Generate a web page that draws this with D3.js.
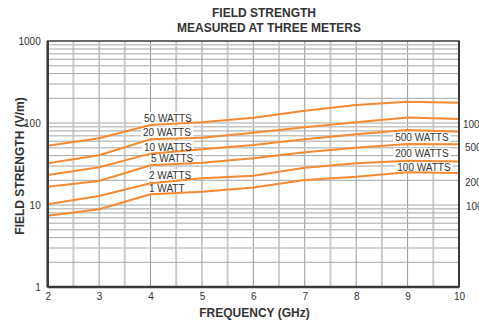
<!DOCTYPE html>
<html>
<head>
<meta charset="utf-8">
<script src="https://cdn.jsdelivr.net/npm/d3@7"></script>
<style>
  html, body { margin: 0; padding: 0; background: #fff; }
  svg { display: block; font-family: "Liberation Sans", Arial, Helvetica, sans-serif; }
</style>
</head>
<body>
<svg id="chart" width="479" height="321"></svg>
<script>
// ---- data ----
const frequencies = [2, 3, 4, 5, 6, 7, 8, 9, 10];              // GHz
const series50W = [52.8, 65, 94.5, 102, 116, 141, 166, 182, 177];
const series20W = [32.3, 40.4, 63.3, 66.3, 76.2, 88.6, 102, 117, 112];
const series10W = [23.2, 28.8, 42.3, 47.8, 54, 63.3, 72.8, 82.2, 78.3];
const series5W  = [16.7, 19.6, 30.5, 32.8, 37.1, 43.9, 50, 55.5, 55];
const series2W  = [10.2, 12.9, 18.4, 21.2, 22.8, 28.5, 32.3, 34.7, 34];
const series1W  = [7.4, 8.9, 13.5, 14.5, 16.3, 20.2, 22.1, 25.1, 24.5];
const allSeries = [series50W, series20W, series10W, series5W, series2W, series1W];

const xTickLabels = ["2", "3", "4", "5", "6", "7", "8", "9", "10"];
const yTickValues = [1, 10, 100, 1000];
const yTickLabels = ["1", "10", "100", "1000"];
const rightTickLabels = ["1000", "500", "200", "100"];
const rightTickAt = [95, 50, 19, 9.7];   // V/m level where each right label sits

const lineLabelTexts = ["50 WATTS", "20 WATTS", "10 WATTS", "5 WATTS", "2 WATTS", "1 WATT",
                        "500 WATTS", "200 WATTS", "100 WATTS"];

// ---- layout (not data) ----
const labelAnchors = [ // [freq at left edge, V/m at vertical centre]
  [3.873, 115], [3.854, 76.6], [3.873, 50.9], [4.01, 36.4], [3.97, 22.9], [3.97, 16.1],
  [8.76, 66.5], [8.76, 41.9], [8.80, 29.0]
];
const rightTickX = [463, 465, 465, 466];

const svg = d3.select("#chart");
const pLeft = 47.7, pRight = 459, pTop = 41, pBottom = 287;
const x = d3.scaleLinear().domain([2, 10]).range([pLeft, pRight]);
const y = d3.scaleLog().domain([1, 1000]).range([pBottom, pTop]);
const orange = "#f58a32";
const textCol = "#333";

// grid: vertical
const g = svg.append("g");
const halfTicks = d3.range(2.5, 10, 1);
g.selectAll("line.vh").data(halfTicks).join("line")
  .attr("x1", d => x(d)).attr("x2", d => x(d))
  .attr("y1", pTop).attr("y2", pBottom)
  .attr("stroke", "#cbcbcb").attr("stroke-width", 2);
g.selectAll("line.vi").data(d3.range(3, 10)).join("line")
  .attr("x1", d => x(d)).attr("x2", d => x(d))
  .attr("y1", pTop).attr("y2", pBottom)
  .attr("stroke", "#999").attr("stroke-width", 1);

// grid: horizontal (log minors)
const minor = [];
[1, 10, 100].forEach(dec => { for (let k = 2; k <= 9; k++) minor.push(dec * k); });
[10, 100].forEach(v => minor.push(v));
g.selectAll("line.h").data(minor).join("line")
  .attr("x1", pLeft).attr("x2", pRight)
  .attr("y1", d => y(d)).attr("y2", d => y(d))
  .attr("stroke", (d, i) => (i % 2 === 0 ? "#a6a6a6" : "#c4c4c4"))
  .attr("stroke-width", (d, i) => (i % 2 === 0 ? 1 : 1.5));

// label background boxes (hide grid only), then lines, then label text
const boxLayer = svg.append("g");
const lineLayer = svg.append("g");
const textLayer = svg.append("g").attr("font-size", 10).attr("fill", textCol);

const line = d3.line().x((d, i) => x(frequencies[i])).y(d => y(d));
lineLayer.selectAll("path").data(allSeries).join("path")
  .attr("d", d => line(d))
  .attr("fill", "none").attr("stroke", orange).attr("stroke-width", 2);

lineLabelTexts.forEach((t, i) => {
  const [f, v] = labelAnchors[i];
  const tx = textLayer.append("text").attr("x", x(f)).attr("y", y(v)).attr("dy", "0.35em").text(t);
  const bb = tx.node().getBBox();
  boxLayer.append("rect")
    .attr("x", bb.x - 2).attr("y", bb.y - 0.5)
    .attr("width", bb.width + 4).attr("height", bb.height + 1)
    .attr("fill", "#fff");
});

// frame
svg.append("rect").attr("x", pLeft).attr("y", pTop)
  .attr("width", pRight - pLeft).attr("height", pBottom - pTop)
  .attr("fill", "none").attr("stroke", "#3a3a3a").attr("stroke-width", 1.5);
svg.append("line").attr("x1", pLeft).attr("x2", pRight).attr("y1", pBottom).attr("y2", pBottom)
  .attr("stroke", "#3a3a3a").attr("stroke-width", 2.5);
svg.append("line").attr("x1", pLeft).attr("x2", pLeft).attr("y1", pTop).attr("y2", pBottom)
  .attr("stroke", "#3a3a3a").attr("stroke-width", 2.5);
svg.append("line").attr("x1", pRight).attr("x2", pRight).attr("y1", pTop).attr("y2", pBottom)
  .attr("stroke", "#3a3a3a").attr("stroke-width", 2);

// axes (labels only)
const xAxis = d3.axisBottom(x).tickValues(frequencies).tickFormat((d, i) => xTickLabels[i]).tickSize(0).tickPadding(6);
const xa = svg.append("g").attr("transform", `translate(0,${pBottom})`).call(xAxis);
xa.select(".domain").remove();
xa.selectAll("text").attr("font-size", 10).attr("fill", textCol).attr("font-family", null);

const yAxis = d3.axisLeft(y).tickValues(yTickValues).tickFormat((d, i) => yTickLabels[i]).tickSize(0).tickPadding(7);
const ya = svg.append("g").attr("transform", `translate(${pLeft},0)`).call(yAxis);
ya.select(".domain").remove();
ya.selectAll("text").attr("font-size", 10).attr("fill", textCol).attr("font-family", null);

// right labels (partly clipped by the window edge, as in the original)
svg.append("g").selectAll("text").data(rightTickLabels).join("text")
  .attr("x", (d, i) => rightTickX[i]).attr("y", (d, i) => y(rightTickAt[i]))
  .attr("dy", "0.35em").attr("font-size", 10).attr("fill", textCol).text(d => d);

// titles
svg.append("text").attr("x", 264).attr("y", 17).attr("text-anchor", "middle")
  .attr("font-size", 12).attr("font-weight", "bold").attr("fill", textCol).text("FIELD STRENGTH");
svg.append("text").attr("x", 269).attr("y", 32).attr("text-anchor", "middle")
  .attr("font-size", 12).attr("font-weight", "bold").attr("fill", textCol).text("MEASURED AT THREE METERS");
svg.append("text").attr("x", 254.5).attr("y", 317).attr("text-anchor", "middle")
  .attr("font-size", 12).attr("font-weight", "bold").attr("fill", textCol).text("FREQUENCY (GHz)");
svg.append("text").attr("transform", "translate(24,166) rotate(-90)").attr("text-anchor", "middle")
  .attr("font-size", 12).attr("font-weight", "bold").attr("fill", textCol).text("FIELD STRENGTH (V/m)");
</script>
</body>
</html>
